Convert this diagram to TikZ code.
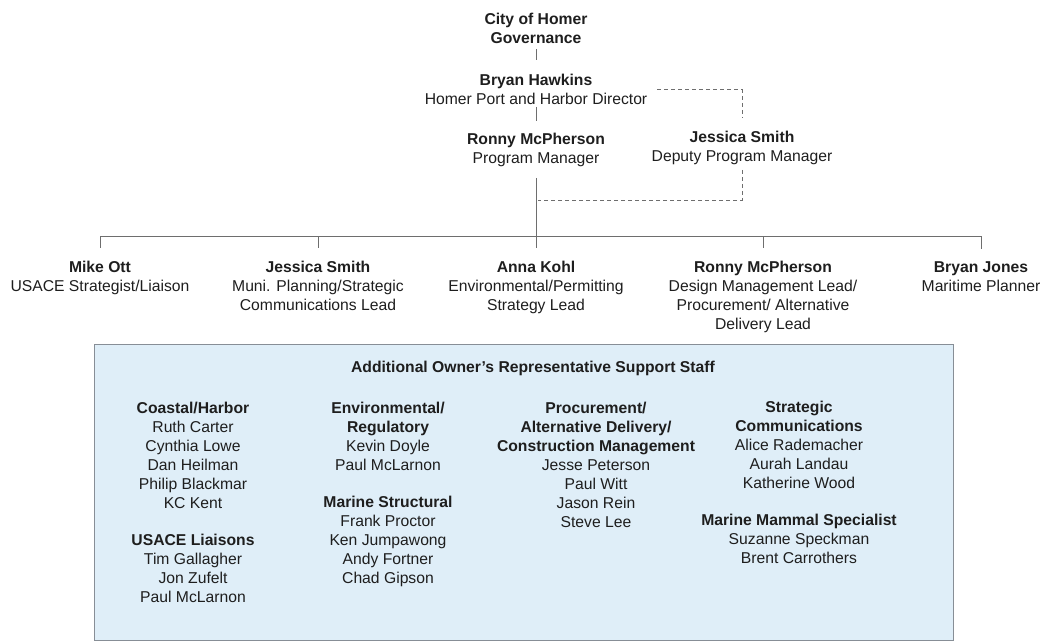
\documentclass[tikz,border=0pt]{standalone}
\usepackage{fontspec}
\setmainfont{Liberation Sans}
\definecolor{boxfill}{RGB}{223,238,248}
\definecolor{boxline}{RGB}{135,142,150}
\definecolor{linkgray}{RGB}{110,110,110}
\definecolor{inkgray}{RGB}{30,30,30}
\begin{document}
\begin{tikzpicture}[x=1pt, y=-1pt,
    person/.style={anchor=base, align=center, inner xsep=2pt, inner ysep=2pt,
        text=inkgray, font=\fontsize{15.7}{19}\selectfont},
    link/.style={draw=linkgray, line width=0.9pt},
    dotlink/.style={link, dashed, dash pattern=on 4pt off 3pt}]
    \useasboundingbox (0,0) rectangle (1050,642);

    \node[person] (gov) at (536,43.5) {\textbf{City of Homer}\\\textbf{Governance}};
    \node[person] (hawkins) at (536,104.5) {\textbf{Bryan Hawkins}\\Homer Port and Harbor Director};
    \node[person] (pm) at (536,163.5) {\textbf{Ronny McPherson}\\Program Manager};
    \node[person] (dpm) at (742,161.5) {\textbf{Jessica Smith}\\Deputy Program Manager};

    \node[person] (ott) at (100,291.5) {\textbf{Mike Ott}\\USACE Strategist/Liaison};
    \node[person] (jsmith) at (318,310.5) {\textbf{Jessica Smith}\\Muni. Planning/Strategic\\Communications Lead};
    \node[person] (kohl) at (536,310.5) {\textbf{Anna Kohl}\\Environmental/Permitting\\Strategy Lead};
    \node[person] (mcph) at (763,329.5) {\textbf{Ronny McPherson}\\Design Management Lead/\\Procurement/ Alternative\\Delivery Lead};
    \node[person] (jones) at (981,291.5) {\textbf{Bryan Jones}\\Maritime Planner};

    \coordinate (bar) at (536,236);
    \coordinate (dashjoin) at (538,200);

    \draw[link, shorten <=3pt, shorten >=12pt] (gov.south) -- (hawkins.north);
    \draw[link, shorten >=10pt] (hawkins.south) -- (pm.north);
    \draw[link, shorten <=9pt] (pm.south) -- (bar);
    \draw[link] (ott.north |- bar) -- (jones.north |- bar);
    \foreach \who in {ott, jsmith, kohl, mcph, jones}
        \draw[link, shorten >=11pt] (\who.north |- bar) -- (\who.north);

    \draw[dotlink, shorten <=8pt, shorten >=11pt] (hawkins.east) -| (dpm.north);
    \draw[dotlink, shorten <=3pt] (dpm.south) |- (dashjoin);

    \draw[draw=boxline, fill=boxfill, line width=1pt] (94,344) rectangle (953,640);

    \node[person] (staff) at (533,372.5) {\textbf{Additional Owner’s Representative Support Staff}};

    \node[person] (coastal) at (193,508.5) {\textbf{Coastal/Harbor}\\Ruth Carter\\Cynthia Lowe\\Dan Heilman\\Philip Blackmar\\KC Kent};
    \node[person] (usace) at (193,602.5) {\textbf{USACE Liaisons}\\Tim Gallagher\\Jon Zufelt\\Paul McLarnon};
    \node[person] (envreg) at (388,470.5) {\textbf{Environmental/}\\\textbf{Regulatory}\\Kevin Doyle\\Paul McLarnon};
    \node[person] (marstr) at (388,583.5) {\textbf{Marine Structural}\\Frank Proctor\\Ken Jumpawong\\Andy Fortner\\Chad Gipson};
    \node[person] (procure) at (596,527.5) {\textbf{Procurement/}\\\textbf{Alternative Delivery/}\\\textbf{Construction Management}\\Jesse Peterson\\Paul Witt\\Jason Rein\\Steve Lee};
    \node[person] (stratcom) at (799,488.5) {\textbf{Strategic}\\\textbf{Communications}\\Alice Rademacher\\Aurah Landau\\Katherine Wood};
    \node[person] (mammal) at (799,563.5) {\textbf{Marine Mammal Specialist}\\Suzanne Speckman\\Brent Carrothers};
\end{tikzpicture}
\end{document}
